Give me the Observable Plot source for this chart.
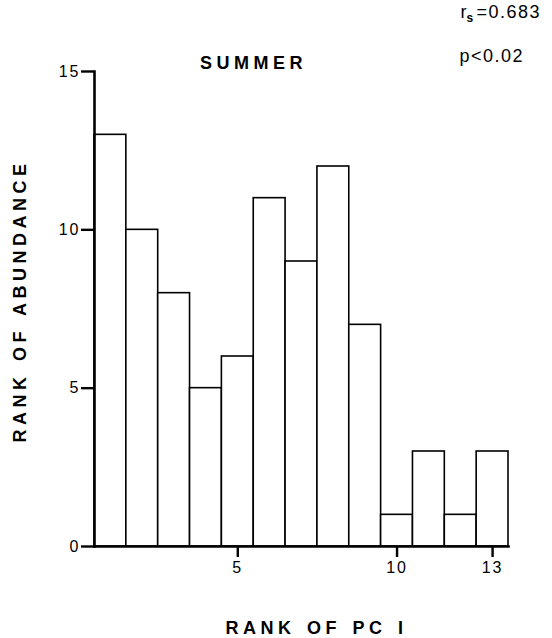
<!DOCTYPE html>
<html>
<head>
<meta charset="utf-8">
<script src="https://cdn.jsdelivr.net/npm/d3@7"></script>
<script src="https://cdn.jsdelivr.net/npm/@observablehq/plot@0.6"></script>
<style>
  html, body { margin: 0; padding: 0; background: #fff; }
</style>
</head>
<body>
<div id="chart"></div>
<script>
// ---- data ----
const ranks = [1, 2, 3, 4, 5, 6, 7, 8, 9, 10, 11, 12, 13];
const abundance = [13, 10, 8, 5, 6, 11, 9, 12, 7, 1, 3, 1, 3];
const xTicks = [5, 10, 13];
const yTicks = [0, 5, 10, 15];
const titleText = "SUMMER";
const xLabel = "RANK OF PC I";
const yLabel = "RANK OF ABUNDANCE";
const statR = "r";
const statSub = "s";
const statRValue = "=0.683";
const statP = "p<0.02";

const bars = ranks.map((r, i) => ({rank: r, value: abundance[i]}));

const font = "'Liberation Sans', Arial, Helvetica, sans-serif";

const chart = Plot.plot({
  width: 552,
  height: 638,
  marginLeft: 94,
  marginRight: 44,
  marginTop: 71,
  marginBottom: 92,
  style: {fontFamily: font, fontSize: "16px", background: "#fff", color: "#000"},
  x: {type: "linear", domain: [0.5, 13.5]},
  y: {domain: [0, 15]},
  marks: [
    Plot.rectY(bars, {
      x1: d => d.rank - 0.5,
      x2: d => d.rank + 0.5,
      y1: 0,
      y2: "value",
      fill: "#fff",
      stroke: "#000",
      strokeWidth: 1.6
    }),
    Plot.frame({anchor: "left", stroke: "#000", strokeWidth: 2.6}),
    Plot.frame({anchor: "bottom", stroke: "#000", strokeWidth: 2.6}),
    Plot.axisY({ticks: yTicks, tickSize: 13, tickPadding: 1, tickFormat: d => String(d),
      strokeWidth: 2.4, fontSize: 16, label: null}),
    Plot.axisX({ticks: xTicks, tickSize: 11, tickPadding: 4, tickFormat: d => String(d),
      strokeWidth: 2.4, fontSize: 16, label: null}),
    Plot.text([titleText], {text: d => d, frameAnchor: "top-left", dx: 159, dy: -3,
      textAnchor: "middle", lineAnchor: "bottom", fontSize: 18, fontWeight: "bold"}),
    Plot.text([xLabel], {text: d => d, frameAnchor: "bottom", dx: 15, dy: 87,
      textAnchor: "middle", lineAnchor: "bottom", fontSize: 18, fontWeight: "bold"}),
    Plot.text([yLabel], {text: d => d, frameAnchor: "left", dx: -69, dy: -8, rotate: -90,
      textAnchor: "middle", lineAnchor: "bottom", fontSize: 18, fontWeight: "bold"}),
    Plot.text([statR], {text: d => d, frameAnchor: "top-left", dx: 366, dy: -54,
      textAnchor: "start", lineAnchor: "bottom", fontSize: 18}),
    Plot.text([statSub], {text: d => d, frameAnchor: "top-left", dx: 372, dy: -50,
      textAnchor: "start", lineAnchor: "bottom", fontSize: 12, fontWeight: "bold"}),
    Plot.text([statRValue], {text: d => d, frameAnchor: "top-left", dx: 382, dy: -54,
      textAnchor: "start", lineAnchor: "bottom", fontSize: 18}),
    Plot.text([statP], {text: d => d, frameAnchor: "top-left", dx: 365, dy: -10,
      textAnchor: "start", lineAnchor: "bottom", fontSize: 18})
  ]
});

// letter spacing for the spaced-out labels (set on the real text elements)
const spaced = new Set([titleText, xLabel, yLabel]);
const stats = new Set([statRValue, statP]);
const tickStrings = new Set([...xTicks, ...yTicks].map(String));
d3.select(chart).selectAll("text").each(function() {
  const t = this.textContent;
  if (spaced.has(t)) {
    this.style.letterSpacing = "4.5px";
    this.style.wordSpacing = "2px";
  } else if (stats.has(t)) {
    this.style.letterSpacing = "1.5px";
  } else if (tickStrings.has(t)) {
    this.style.letterSpacing = "2px";
  }
});

document.getElementById("chart").appendChild(chart);
</script>
</body>
</html>
